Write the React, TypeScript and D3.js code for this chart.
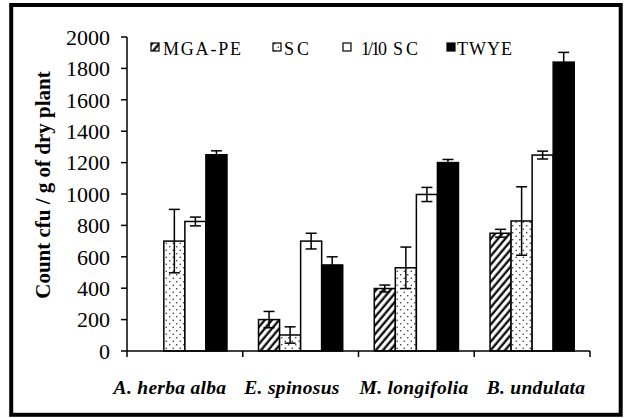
import React from 'react';
import * as d3 from 'd3';

const width = 627;
const height = 418;
const margin = { top: 37, right: 37, bottom: 67, left: 127 };

const categories = ['A. herba alba', 'E. spinosus', 'M. longifolia', 'B. undulata'];
const series = ['MGA-PE', 'SC', '1/10 SC', 'TWYE'];
const fills = ['url(#hatch)', 'url(#dots)', '#fff', '#000'];

// mean values per series, one entry per category
const mgaPe = [0, 200, 398, 750];
const sc = [700, 102, 530, 828];
const tenthSc = [825, 700, 997, 1248];
const twye = [1250, 548, 1200, 1840];

// standard errors
const mgaPeErr = [0, 52, 22, 25];
const scErr = [202, 52, 132, 218];
const tenthScErr = [28, 50, 45, 25];
const twyeErr = [25, 52, 20, 62];

const yTicks = [0, 200, 400, 600, 800, 1000, 1200, 1400, 1600, 1800, 2000];

const values = [mgaPe, sc, tenthSc, twye];
const errors = [mgaPeErr, scErr, tenthScErr, twyeErr];

// legend layout (swatch x, text x, letter spacing)
const legendSwatchX = [151, 273, 343, 447];
const legendTextX = [163, 284, 361, 457];
const legendSpacing = [1.8, 3, 3, 1];

const serif = 'Liberation Serif';

const App = () => {
  const x0 = d3.scaleBand()
    .domain(categories)
    .range([margin.left, width - margin.right])
    .padding(0);

  const x1 = d3.scaleBand()
    .domain(series)
    .range([0, x0.bandwidth()])
    .paddingInner(0)
    .paddingOuter(0.75);

  // category labels sit on a slightly wider band than the bars
  const xLabel = d3.scaleBand()
    .domain(categories)
    .range([109, 597]);

  const y = d3.scaleLinear()
    .domain([0, 2000])
    .range([height - margin.bottom, margin.top]);

  const y0 = y(0);

  return (
    <div style={{ position: 'absolute', left: 0, top: 0 }}>
      <svg width={width} height={height} style={{ display: 'block', background: '#fff', fontFamily: serif }}>
        <defs>
          <pattern id="hatch" width="5.5" height="5.5" patternUnits="userSpaceOnUse" patternTransform="rotate(40)">
            <rect width="5.5" height="5.5" fill="#fff" />
            <line x1="1.5" y1="0" x2="1.5" y2="5.5" stroke="#000" strokeWidth="2.2" />
          </pattern>
          <pattern id="dots" width="7" height="7" patternUnits="userSpaceOnUse">
            <rect width="7" height="7" fill="#fff" />
            <circle cx="1.75" cy="1.75" r="0.8" fill="#333" />
            <circle cx="5.25" cy="5.25" r="0.8" fill="#333" />
          </pattern>
        </defs>

        {/* frame */}
        <rect x={11.2} y={5} width={609.5} height={409.8} fill="none" stroke="#000" strokeWidth={4} />

        {/* bars */}
        {categories.map((cat, ci) => (
          <g key={cat}>
            {series.map((s, si) => {
              const v = values[si][ci];
              const bx = x0(cat) + x1(s);
              return (
                <rect
                  key={s}
                  x={bx}
                  y={y(v)}
                  width={x1.bandwidth()}
                  height={y0 - y(v)}
                  fill={fills[si]}
                  stroke="#000"
                  strokeWidth={1.5}
                />
              );
            })}
          </g>
        ))}

        {/* error bars */}
        {categories.map((cat, ci) => (
          <g key={cat + '-err'}>
            {series.map((s, si) => {
              const v = values[si][ci];
              const e = errors[si][ci];
              if (e === 0) return null;
              const cx = x0(cat) + x1(s) + x1.bandwidth() / 2;
              const hi = y(v + e);
              const lo = y(Math.max(0, v - e));
              return (
                <g key={s} stroke="#000" strokeWidth={1.5}>
                  <line x1={cx} x2={cx} y1={hi} y2={lo} />
                  <line x1={cx - 5.5} x2={cx + 5.5} y1={hi} y2={hi} />
                  <line x1={cx - 5.5} x2={cx + 5.5} y1={lo} y2={lo} />
                </g>
              );
            })}
          </g>
        ))}

        {/* y axis */}
        <line x1={margin.left} x2={margin.left} y1={y(2000)} y2={y0} stroke="#000" strokeWidth={1.5} />
        {yTicks.map(t => (
          <g key={t}>
            <line x1={margin.left - 6} x2={margin.left} y1={y(t)} y2={y(t)} stroke="#000" strokeWidth={1.5} />
            <text
              x={110}
              y={y(t)}
              dy="0.35em"
              textAnchor="end"
              fontSize={22}
              fill="#000"
            >
              {t}
            </text>
          </g>
        ))}

        {/* x axis */}
        <line x1={margin.left} x2={width - margin.right} y1={y0} y2={y0} stroke="#000" strokeWidth={1.5} />
        {[...categories.map(c => x0(c)), width - margin.right].map((tx, i) => (
          <line key={i} x1={tx} x2={tx} y1={y0} y2={y0 + 6} stroke="#000" strokeWidth={1.5} />
        ))}
        {categories.map(c => (
          <text
            key={c}
            x={xLabel(c) + xLabel.bandwidth() / 2}
            y={394}
            textAnchor="middle"
            fontSize={19.5}
            letterSpacing={0.3}
            fontWeight="bold"
            fontStyle="italic"
            fill="#000"
          >
            {c}
          </text>
        ))}

        {/* y axis title */}
        <text
          transform="translate(50, 185) rotate(-90)"
          textAnchor="middle"
          fontSize={21}
          fontWeight="bold"
          fill="#000"
        >
          Count cfu / g of dry plant
        </text>

        {/* legend */}
        {series.map((s, si) => (
          <g key={s}>
            <rect x={legendSwatchX[si]} y={43} width={8} height={8} fill={fills[si]} stroke="#000" strokeWidth={1.2} />
            {s === '1/10 SC' ? (
              <text x={legendTextX[si]} y={55} fontSize={18} fill="#000">
                <tspan letterSpacing={-2}>1/10</tspan>
                <tspan x={393} letterSpacing={legendSpacing[si]}>SC</tspan>
              </text>
            ) : (
              <text x={legendTextX[si]} y={55} fontSize={18} letterSpacing={legendSpacing[si]} fill="#000">
                {s}
              </text>
            )}
          </g>
        ))}
      </svg>
    </div>
  );
};

export default App;
